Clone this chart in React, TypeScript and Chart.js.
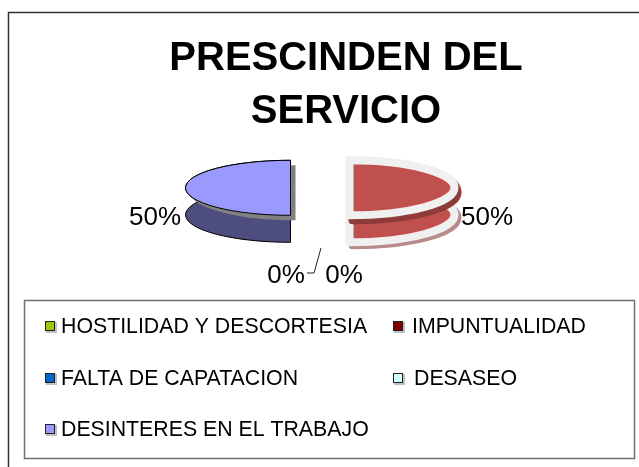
import React, { useEffect, useRef } from "react";
import { Chart, registerables } from "chart.js";

Chart.register(...registerables);

const categories = ["HOSTILIDAD Y DESCORTESIA", "IMPUNTUALIDAD", "FALTA DE CAPATACION", "DESASEO", "DESINTERES EN EL TRABAJO"];
const values = [0, 50, 0, 0, 50];
const sliceColors = ["#99cc00", "#c0504d", "#0066cc", "#ccffff", "#9999ff"];
const legendColors = ["#99cc00", "#800000", "#0066cc", "#ccffff", "#9999ff"];
const titleLines = ["PRESCINDEN DEL", "SERVICIO"];

const FONT = '"Liberation Sans", Arial, sans-serif';
const SQUASH = 0.262;
const DEPTH = 27;
const PIE_SHIFT = 26;

type Seg = { x: number; y: number; a0: number; a1: number; r: number };

function trace(ctx: CanvasRenderingContext2D, s: Seg, cy: number, dy: number, side: boolean) {
  const mx = s.x;
  const my = cy + dy;
  ctx.beginPath();
  if (side) {
    ctx.ellipse(mx, my, s.r, s.r * SQUASH, 0, s.a0, s.a1);
    ctx.ellipse(mx, my + DEPTH, s.r, s.r * SQUASH, 0, s.a1, s.a0, true);
  } else {
    ctx.moveTo(mx, my);
    ctx.ellipse(mx, my, s.r, s.r * SQUASH, 0, s.a0, s.a1);
  }
  ctx.closePath();
}

const pie3d = {
  id: "pie3d",
  beforeDatasetDraw(chart: any) {
    const ctx: CanvasRenderingContext2D = chart.ctx;
    const arcs = chart.getDatasetMeta(0).data;
    arcs.forEach((arc: any, i: number) => {
      if (!values[i]) return;
      const mid = (arc.startAngle + arc.endAngle) / 2;
      const off = arc.options.offset;
      const s: Seg = {
        x: arc.x - PIE_SHIFT + Math.cos(mid) * off,
        y: arc.y,
        a0: arc.startAngle,
        a1: arc.endAngle,
        r: arc.outerRadius,
      };
      const cy = arc.y;
      const color = sliceColors[i];
      ctx.save();
      ctx.lineJoin = "round";
      if (i === 1) {
        ctx.save();
        ctx.translate(3, 3);
        trace(ctx, s, cy, 0, true);
        ctx.strokeStyle = "#b98a8a";
        ctx.lineWidth = 8;
        ctx.stroke();
        ctx.restore();
        trace(ctx, s, cy, 0, true);
        ctx.fillStyle = color;
        ctx.fill();
        ctx.strokeStyle = "#f0f0f0";
        ctx.lineWidth = 8;
        ctx.stroke();
        ctx.save();
        ctx.translate(3, 5);
        trace(ctx, s, cy, 0, false);
        ctx.strokeStyle = "#8f3b39";
        ctx.lineWidth = 8;
        ctx.stroke();
        ctx.restore();
        trace(ctx, s, cy, 0, false);
        ctx.fillStyle = color;
        ctx.fill();
        ctx.strokeStyle = "#f0f0f0";
        ctx.lineWidth = 8;
        ctx.stroke();
      } else {
        trace(ctx, s, cy, 0, true);
        ctx.fillStyle = "#4d4d80";
        ctx.fill();
        ctx.strokeStyle = "#000000";
        ctx.lineWidth = 1;
        ctx.stroke();
        ctx.save();
        ctx.translate(5, 5);
        trace(ctx, s, cy, 0, false);
        ctx.fillStyle = "#808080";
        ctx.fill();
        ctx.restore();
        trace(ctx, s, cy, 0, false);
        ctx.fillStyle = color;
        ctx.fill();
        ctx.strokeStyle = "#000000";
        ctx.lineWidth = 1;
        ctx.stroke();
      }
      ctx.restore();
    });
    return false;
  },
  afterDatasetsDraw(chart: any) {
    const ctx: CanvasRenderingContext2D = chart.ctx;
    const total = values.reduce((a, b) => a + b, 0);
    const labelAt: Record<number, [number, number]> = {
      1: [487, 225],
      2: [344, 283],
      3: [286, 283],
      4: [155, 225],
    };
    ctx.save();
    ctx.fillStyle = "#000";
    ctx.font = `26px ${FONT}`;
    ctx.textAlign = "center";
    ctx.textBaseline = "alphabetic";
    Object.keys(labelAt).forEach((k) => {
      const i = Number(k);
      ctx.fillText(`${Math.round((values[i] / total) * 100)}%`, labelAt[i][0], labelAt[i][1]);
    });
    ctx.strokeStyle = "#222";
    ctx.lineWidth = 1;
    ctx.beginPath();
    ctx.moveTo(321, 248);
    ctx.lineTo(314, 273);
    ctx.lineTo(307, 273);
    ctx.stroke();

    ctx.strokeStyle = "#333";
    ctx.lineWidth = 1.5;
    ctx.beginPath();
    ctx.rect(8.5, 12.5, 680, 480);
    ctx.stroke();
    ctx.fillStyle = "#fff";
    ctx.strokeStyle = "#707070";
    ctx.beginPath();
    ctx.rect(24.5, 300.5, 610, 158);
    ctx.fill();
    ctx.stroke();
    ctx.lineWidth = 1;
    const rows = [326, 378, 429];
    const cols = [[45, 61], [393, 412]];
    ctx.font = `21.3px ${FONT}`;
    ctx.textAlign = "left";
    ctx.textBaseline = "middle";
    categories.forEach((c, i) => {
      const col = cols[i % 2];
      const y = rows[Math.floor(i / 2)];
      ctx.fillStyle = "#c0c0c0";
      ctx.fillRect(col[0] + 1, y - 4, 11, 11);
      ctx.fillStyle = legendColors[i];
      ctx.fillRect(col[0], y - 5, 10, 10);
      ctx.strokeStyle = "#222";
      ctx.strokeRect(col[0] + 0.5, y - 4.5, 9, 9);
      ctx.fillStyle = "#000";
      ctx.fillText(c, col[1] + (i === 3 ? 2 : 0), y + 1);
    });
    ctx.restore();
  },
};

export default function App() {
  const ref = useRef<HTMLCanvasElement>(null);
  useEffect(() => {
    document.body.style.margin = "0";
    const chart = new Chart(ref.current!, {
      type: "pie",
      data: {
        labels: categories,
        datasets: [{ data: values, backgroundColor: sliceColors, offset: 29.5, borderWidth: 0 }],
      },
      plugins: [pie3d],
      options: {
        animation: false,
        responsive: false,
        radius: 105,
        layout: { padding: { left: 53, right: 0, top: 0, bottom: 230 } },
        plugins: {
          legend: { display: false },
          tooltip: { enabled: false },
          title: {
            display: true,
            text: titleLines,
            color: "#000",
            font: { family: FONT, size: 40, weight: "bold", lineHeight: 1.32 },
            padding: { top: 33, bottom: 0 },
          },
        },
      },
    } as any);
    return () => chart.destroy();
  }, []);
  return <canvas ref={ref} width={639} height={467} style={{ display: "block" }} />;
}
